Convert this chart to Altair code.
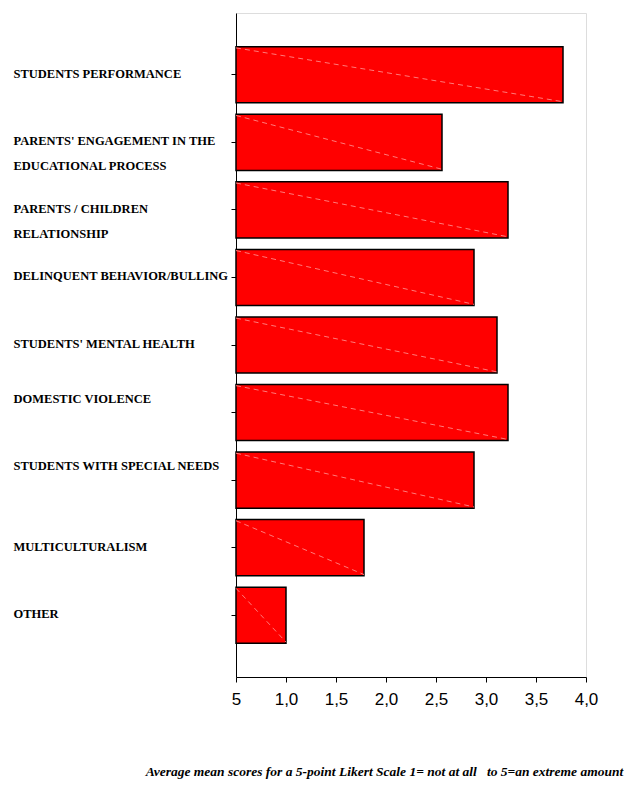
import altair as alt
import pandas as pd

categories = [
    "STUDENTS PERFORMANCE",
    "PARENTS' ENGAGEMENT IN THE|EDUCATIONAL PROCESS",
    "PARENTS / CHILDREN|RELATIONSHIP",
    "DELINQUENT BEHAVIOR/BULLING",
    "STUDENTS' MENTAL HEALTH",
    "DOMESTIC VIOLENCE",
    "STUDENTS WITH SPECIAL NEEDS",
    "MULTICULTURALISM",
    "OTHER",
]
scores = [3.77, 2.56, 3.22, 2.88, 3.11, 3.22, 2.88, 1.78, 1.0]

x_ticks = [0.5, 1.0, 1.5, 2.0, 2.5, 3.0, 3.5, 4.0]
x_tick_labels = ["5", "1,0", "1,5", "2,0", "2,5", "3,0", "3,5", "4,0"]
AXIS_MIN = 0.5
AXIS_MAX = 4.0

raised_labels = ["DOMESTIC VIOLENCE", "STUDENTS WITH SPECIAL NEEDS"]

x_title = ("Average mean scores for a 5-point Likert Scale 1= not at all"
           "\u00a0\u00a0 to 5=an extreme amount")

df = pd.DataFrame({"category": categories, "score": scores})
df["start"] = AXIS_MIN

label_lookup = "[" + ",".join(f"'{t}'" for t in x_tick_labels) + "][indexof([" + \
    ",".join(str(v) for v in x_ticks) + "], datum.value)]"

raised_test = " || ".join(f"datum.value == '{c}'" for c in raised_labels)

y_scale = alt.Scale(paddingInner=0.17, paddingOuter=0.5)

y_axis = alt.Axis(
    title=None,
    domainColor="black",
    tickColor="black",
    tickSize=5,
    labelAlign="left",
    labelPadding=218,
    labelBaseline="top",
    labelOffset={"condition": {"test": raised_test, "value": -20}, "value": -7},
    labelLineHeight=25,
    labelExpr="split(datum.label, '|')",
    labelFont="Liberation Serif",
    labelFontWeight="bold",
    labelFontSize=12.5,
    labelColor="black",
    labelLimit=400,
)

x_axis = alt.Axis(
    values=x_ticks,
    labelExpr=label_lookup,
    labelFlush=False,
    domainColor="black",
    tickColor="black",
    tickSize=5,
    grid=False,
    labelFont="Liberation Sans Narrow, Liberation Sans, sans-serif",
    labelFontSize=17,
    labelColor="black",
    labelPadding=9,
    title=x_title,
    titleFont="Liberation Serif",
    titleFontStyle="italic",
    titleFontWeight="bold",
    titleFontSize=13.5,
    titleColor="black",
    titleX=148,
    titleY=98,
    titleAlign="center",
    titleBaseline="alphabetic",
)

x_scale = alt.Scale(domain=[AXIS_MIN, AXIS_MAX], nice=False, zero=False)

base = alt.Chart(df)

bars = base.mark_bar(color="#ff0000", stroke="black", strokeWidth=1.5).encode(
    y=alt.Y("category:N", sort=None, scale=y_scale, axis=y_axis),
    x=alt.X("start:Q", scale=x_scale, axis=x_axis),
    x2="score:Q",
)

diag = base.mark_rule(color="#ff7a7a", strokeWidth=1, strokeDash=[5, 4]).encode(
    y=alt.Y("category:N", sort=None, bandPosition=0.02),
    y2=alt.Y2("category:N", bandPosition=0.98),
    x=alt.X("start:Q"),
    x2="score:Q",
)

chart = (
    alt.layer(bars, diag)
    .properties(width=350, height=664)
    .configure_view(stroke="#222", strokeWidth=1.5)
    .configure(background="white")
)

chart.save("out.html", embed_options={"renderer": "svg", "actions": False})
